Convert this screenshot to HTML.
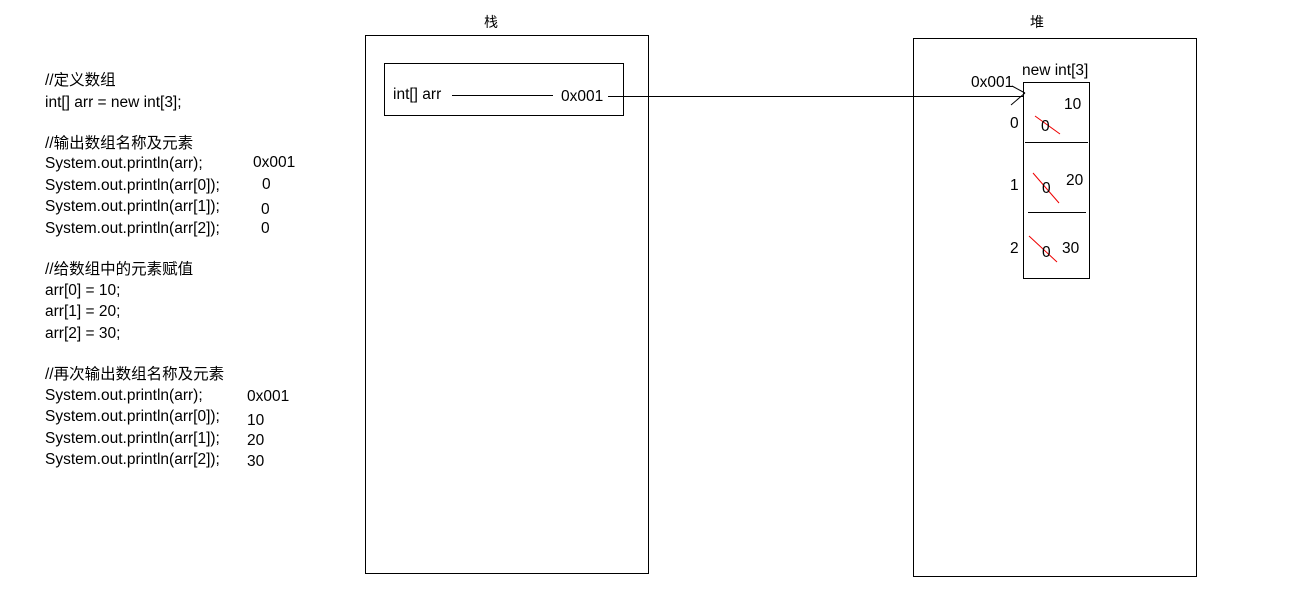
<!DOCTYPE html>
<html><head><meta charset="utf-8"><style>
body{margin:0;width:1294px;height:598px;background:#fff;position:relative;overflow:hidden;font-family:"Liberation Sans","Noto Sans CJK SC",sans-serif;font-size:15.5px;color:#000}
.t{position:absolute;line-height:18px;white-space:nowrap;margin-top:2px}
svg{position:absolute;left:0;top:0}
</style></head><body>
<svg width="1294" height="598">
<rect x="365.5" y="35.5" width="283" height="538" fill="none" stroke="#000"/>
<rect x="913.5" y="38.5" width="283" height="538" fill="none" stroke="#000"/>
<rect x="384.5" y="63.5" width="239" height="52" fill="none" stroke="#000"/>
<line x1="452" y1="95.5" x2="553" y2="95.5" stroke="#000"/>
<line x1="608" y1="96.5" x2="1024" y2="96.5" stroke="#000"/>
<line x1="1012" y1="86" x2="1025" y2="93" stroke="#000"/>
<line x1="1011" y1="105" x2="1025" y2="93" stroke="#000"/>
<rect x="1023.5" y="82.5" width="66" height="196" fill="none" stroke="#000"/>
<line x1="1025" y1="142.5" x2="1088" y2="142.5" stroke="#000"/>
<line x1="1028" y1="212.5" x2="1086" y2="212.5" stroke="#000"/>
<line x1="1035" y1="116" x2="1060" y2="134" stroke="#e00"/>
<line x1="1033" y1="173" x2="1059" y2="203" stroke="#e00"/>
<line x1="1029" y1="236" x2="1057" y2="262" stroke="#e00"/>
</svg>
<div class="t" style="left:484px;top:11px;font-size:14px">栈</div>
<div class="t" style="left:1030px;top:11px;font-size:14px">堆</div>
<div class="t" style="left:393px;top:84px">int[] arr</div>
<div class="t" style="left:561px;top:86px">0x001</div>
<div class="t" style="left:971px;top:72px">0x001</div>
<div class="t" style="left:1022px;top:60px">new int[3]</div>
<div class="t" style="left:1064px;top:94px">10</div>
<div class="t" style="left:1041px;top:116px">0</div>
<div class="t" style="left:1010px;top:113px">0</div>
<div class="t" style="left:1066px;top:170px">20</div>
<div class="t" style="left:1042px;top:178px">0</div>
<div class="t" style="left:1010px;top:175px">1</div>
<div class="t" style="left:1062px;top:238px">30</div>
<div class="t" style="left:1042px;top:242px">0</div>
<div class="t" style="left:1010px;top:238px">2</div>

<div class="t" style="left:45px;top:70px">//定义数组</div>
<div class="t" style="left:45px;top:92px">int[] arr = new int[3];</div>
<div class="t" style="left:45px;top:133px">//输出数组名称及元素</div>
<div class="t" style="left:45px;top:153px">System.out.println(arr);</div>
<div class="t" style="left:45px;top:175px">System.out.println(arr[0]);</div>
<div class="t" style="left:45px;top:196px">System.out.println(arr[1]);</div>
<div class="t" style="left:45px;top:218px">System.out.println(arr[2]);</div>
<div class="t" style="left:253px;top:152px">0x001</div>
<div class="t" style="left:262px;top:174px">0</div>
<div class="t" style="left:261px;top:199px">0</div>
<div class="t" style="left:261px;top:218px">0</div>
<div class="t" style="left:45px;top:259px">//给数组中的元素赋值</div>
<div class="t" style="left:45px;top:280px">arr[0] = 10;</div>
<div class="t" style="left:45px;top:301px">arr[1] = 20;</div>
<div class="t" style="left:45px;top:323px">arr[2] = 30;</div>
<div class="t" style="left:45px;top:364px">//再次输出数组名称及元素</div>
<div class="t" style="left:45px;top:385px">System.out.println(arr);</div>
<div class="t" style="left:45px;top:406px">System.out.println(arr[0]);</div>
<div class="t" style="left:45px;top:428px">System.out.println(arr[1]);</div>
<div class="t" style="left:45px;top:449px">System.out.println(arr[2]);</div>
<div class="t" style="left:247px;top:386px">0x001</div>
<div class="t" style="left:247px;top:410px">10</div>
<div class="t" style="left:247px;top:430px">20</div>
<div class="t" style="left:247px;top:451px">30</div>
</body></html>
